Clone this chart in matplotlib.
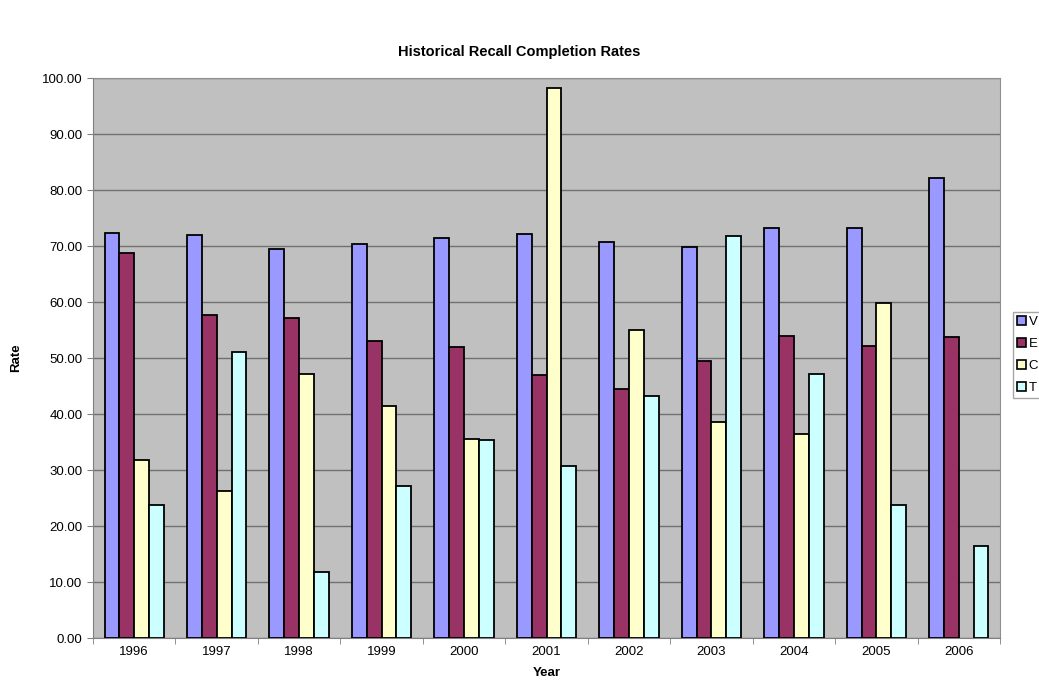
import matplotlib
matplotlib.use("Agg")
import matplotlib.pyplot as plt
import numpy as np
from matplotlib.patches import Patch

years = ["1996", "1997", "1998", "1999", "2000", "2001", "2002", "2003", "2004", "2005", "2006"]
vehicles = [72.3, 72.0, 69.5, 70.4, 71.5, 72.2, 70.7, 69.8, 73.3, 73.2, 82.2]
equipment = [68.7, 57.7, 57.2, 53.1, 52.0, 46.9, 44.5, 49.5, 53.9, 52.1, 53.8]
child_restraints = [31.8, 26.3, 47.1, 41.4, 35.6, 98.2, 55.0, 38.6, 36.4, 59.9, np.nan]
tires = [23.7, 51.1, 11.8, 27.2, 35.4, 30.7, 43.3, 71.8, 47.1, 23.7, 16.5]
series_names = ["V", "E", "C", "T"]
colors = ["#9999FF", "#993366", "#FFFFCC", "#CCFFFF"]

plt.rcParams['font.family'] = ['Liberation Sans', 'DejaVu Sans']

fig = plt.figure(figsize=(10.39, 6.92), dpi=100)
ax = fig.add_axes([0.0895, 0.078, 0.873, 0.809])
ax.set_facecolor("#C0C0C0")

x = np.arange(len(years))
w = 0.18
data = [vehicles, equipment, child_restraints, tires]
for i, (vals, c) in enumerate(zip(data, colors)):
    ax.bar(x + (i - 1.5) * w, vals, width=w, color=c, edgecolor="black", linewidth=1.3, zorder=3)

ax.set_xlim(-0.5, len(years) - 0.5)
ax.set_ylim(0, 100)
ax.set_yticks(np.arange(0, 101, 10))
ax.set_yticklabels([f"{v:.2f}" for v in np.arange(0, 101, 10)], fontsize=9.5)
ax.set_xticks(x)
ax.set_xticklabels(years, fontsize=9.5)
ax.set_xticks(np.arange(-0.5, len(years), 1), minor=True)
ax.tick_params(axis='x', which='major', length=0, pad=6)
ax.tick_params(axis='x', which='minor', length=4, color="#808080")
ax.tick_params(axis='y', length=4, color="#808080")
ax.yaxis.grid(True, color="#707070", linewidth=1.0, zorder=0)
for s in ["top", "right"]:
    ax.spines[s].set_color("#909090")
for s in ["left", "bottom"]:
    ax.spines[s].set_color("#808080")

ax.set_ylabel("Rate", fontsize=9.5, fontweight="bold", labelpad=14)
ax.set_xlabel("Year", fontsize=9.5, fontweight="bold", labelpad=6)
fig.suptitle("Historical Recall Completion Rates", fontsize=10.5, fontweight="bold", y=0.935)

handles = [Patch(facecolor=c, edgecolor="black", linewidth=1.2) for c in colors]
leg = fig.legend(handles, series_names, loc="center left", bbox_to_anchor=(0.975, 0.487),
                 borderaxespad=0.0,
                 fontsize=9.5, frameon=True, fancybox=False, handlelength=0.7, handleheight=0.7,
                 handletextpad=0.2, borderpad=0.3, labelspacing=0.75)
leg.get_frame().set_edgecolor("#909090")
leg.get_frame().set_linewidth(1.0)

fig.savefig("out.png", dpi=100)
